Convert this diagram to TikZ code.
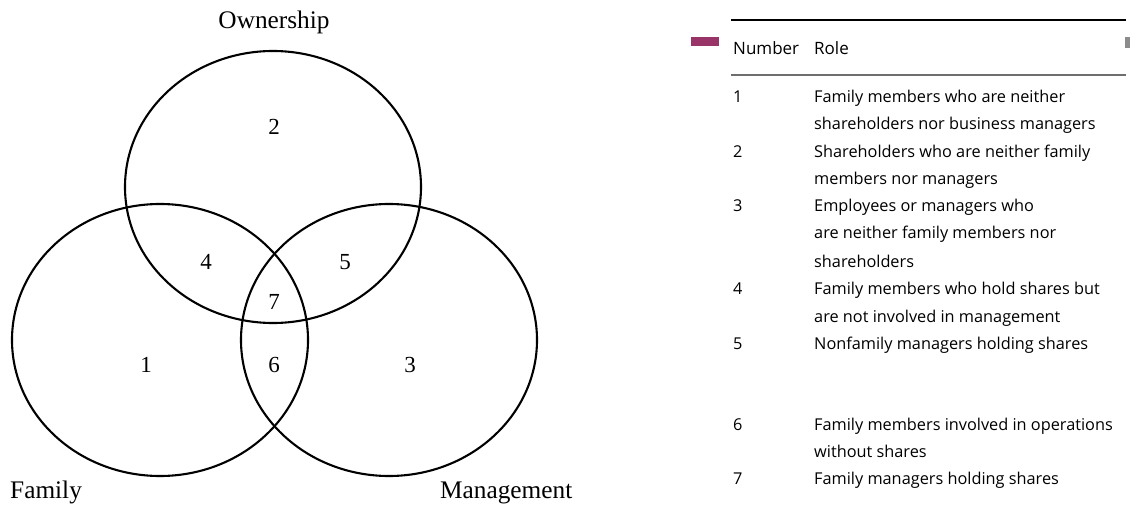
\documentclass[tikz,border=0pt]{standalone}
\usepackage{fontspec}
\setmainfont{Liberation Serif}
\newfontfamily\tabfont{Open Sans}
\definecolor{plum}{HTML}{983467}
\definecolor{rulegrey}{HTML}{6E6E6E}
\begin{document}
\begin{tikzpicture}[x=1pt,y=-1pt,
  venn/.style={draw=black,line width=2.1pt},
  vlabel/.style={font=\fontsize{25.3}{28}\selectfont,inner sep=0pt},
  vnum/.style={font=\fontsize{23}{25}\selectfont,inner sep=0pt},
  tline/.style={font=\tabfont\fontsize{16.3}{19}\selectfont,inner sep=0pt,anchor=base west},
  thead/.style={font=\tabfont\fontsize{17}{20}\selectfont,inner sep=0pt,anchor=base west}]
\useasboundingbox (0,0) rectangle (1135,505);
% Venn diagram
\draw[venn] (273,187) ellipse [x radius=148, y radius=136];
\draw[venn] (160,340) ellipse [x radius=148, y radius=136];
\draw[venn] (389,340) ellipse [x radius=148, y radius=136];
\node[vlabel,anchor=base] (own) at (274,29) {Ownership};
\node[vlabel,anchor=base west] (fam) at (10,498) {Family};
\node[vlabel,anchor=base west] (man) at (440,498) {Management};
\node[vnum] (n2) at (274,127) {2};
\node[vnum] (n4) at (206,262) {4};
\node[vnum] (n5) at (345,262) {5};
\node[vnum] (n7) at (274,302) {7};
\node[vnum] (n1) at (146,365) {1};
\node[vnum] (n6) at (274,365) {6};
\node[vnum] (n3) at (410,365) {3};
% Table
\fill[plum] (691,37) rectangle (719,46);
\fill[black!45] (1125,37) rectangle (1130,48);
\draw[line width=1.8pt] (731,20) -- (1126,20);
\draw[rulegrey,line width=1.2pt] (731,75) -- (1126,75);
\node[thead] (hnum) at (733,55) {Number};
\node[thead] (hrole) at (814,55) {Role};
\node[tline] (k1) at (733,103) {1};
\node[tline] (r1a) at (814,103) {Family members who are neither};
\node[tline] (r1b) at (814,130) {shareholders nor business managers};
\node[tline] (k2) at (733,158) {2};
\node[tline] (r2a) at (814,158) {Shareholders who are neither family};
\node[tline] (r2b) at (814,185) {members nor managers};
\node[tline] (k3) at (733,212) {3};
\node[tline] (r3a) at (814,212) {Employees or managers who};
\node[tline] (r3b) at (814,239) {are neither family members nor};
\node[tline] (r3c) at (814,267) {shareholders};
\node[tline] (k4) at (733,294) {4};
\node[tline] (r4a) at (814,294) {Family members who hold shares but};
\node[tline] (r4b) at (814,322) {are not involved in management};
\node[tline] (k5) at (733,349) {5};
\node[tline] (r5a) at (814,349) {Nonfamily managers holding shares};
\node[tline] (k6) at (733,430) {6};
\node[tline] (r6a) at (814,430) {Family members involved in operations};
\node[tline] (r6b) at (814,457) {without shares};
\node[tline] (k7) at (733,484) {7};
\node[tline] (r7a) at (814,484) {Family managers holding shares};
\end{tikzpicture}
\end{document}
